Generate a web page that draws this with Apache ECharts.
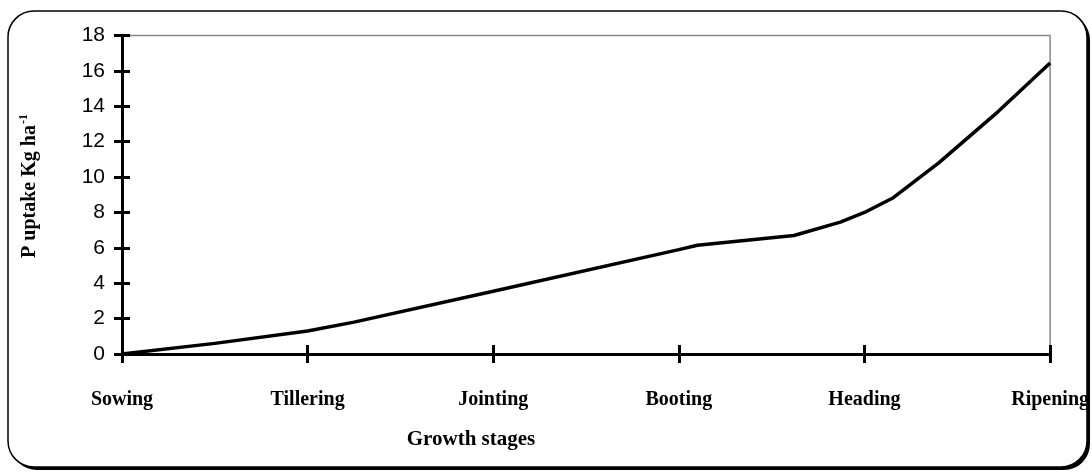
<!DOCTYPE html>
<html>
<head>
<meta charset="utf-8">
<script src="https://cdn.jsdelivr.net/npm/echarts@6/dist/echarts.min.js"></script>
<style>html,body{margin:0;padding:0;background:#fff;}#c{width:1092px;height:472px;}</style>
</head>
<body>
<div id="c"></div>
<script>
const stages = ['Sowing', 'Tillering', 'Jointing', 'Booting', 'Heading', 'Ripening'];
const stagePos = [0, 0.5, 1, 1.25, 2, 3, 3.1, 3.62, 3.87, 4, 4.15, 4.4, 4.72, 5];
const uptake = [0, 0.6, 1.3, 1.8, 3.55, 5.9, 6.15, 6.7, 7.45, 8.0, 8.8, 10.8, 13.7, 16.45];
const yTicks = [0, 2, 4, 6, 8, 10, 12, 14, 16, 18];

const chart = echarts.init(document.getElementById('c'), null, {renderer: 'canvas'});
const axisLine = {show: true, onZero: false, lineStyle: {color: '#000', width: 3}};
const tickStyle = {color: '#000', width: 3};
const yBase = {type: 'value', min: yTicks[0], max: yTicks[yTicks.length - 1], interval: 2, splitLine: {show: false}};
const xBase = {type: 'value', min: 0, max: stages.length - 1, interval: 1, splitLine: {show: false}};

chart.setOption({
  animation: false,
  backgroundColor: 'transparent',
  graphic: [
    {type: 'rect', z: -11, shape: {x: 11, y: 14, width: 1079, height: 456, r: 26},
     style: {fill: '#000'}},
    {type: 'rect', z: -10, shape: {x: 8, y: 11, width: 1079, height: 456, r: 26},
     style: {fill: '#fff', stroke: '#000', lineWidth: 1.5}},
    {type: 'text', x: 471, y: 440, z: 10,
     style: {text: 'Growth stages', fontFamily: 'Liberation Serif', fontWeight: 'bold', fontSize: 21, fill: '#000', align: 'center', verticalAlign: 'middle'}},
    {type: 'text', x: 30, y: 186, rotation: Math.PI / 2, z: 10,
     style: {text: '{a|P uptake Kg ha}{s|-1}', align: 'center', verticalAlign: 'middle', fill: '#000',
       rich: {a: {fontFamily: 'Liberation Serif', fontWeight: 'bold', fontSize: 20, lineHeight: 24},
              s: {fontFamily: 'Liberation Serif', fontWeight: 'bold', fontSize: 12, verticalAlign: 'top', lineHeight: 24, padding: [0, 0, 10, 1]}}}}
  ],
  grid: {left: 122, right: 39, top: 35.5, bottom: 118, show: true, borderColor: '#888', borderWidth: 1.5, backgroundColor: 'transparent'},
  xAxis: [
    Object.assign({}, xBase, {
      position: 'bottom', offset: 0, axisLine: axisLine,
      axisTick: {show: true, inside: false, length: 9, lineStyle: tickStyle},
      axisLabel: {show: true, margin: 36, color: '#000', fontFamily: 'Liberation Serif', fontWeight: 'bold', fontSize: 20,
        formatter: v => stages[Math.round(v)] || ''}
    }),
    Object.assign({}, xBase, {
      position: 'bottom', offset: 0, axisLine: {show: false},
      axisTick: {show: true, inside: true, length: 9, lineStyle: tickStyle},
      axisLabel: {show: false}
    })
  ],
  yAxis: [
    Object.assign({}, yBase, {
      position: 'left', offset: 0, axisLine: axisLine,
      axisTick: {show: true, inside: false, length: 8, lineStyle: tickStyle},
      axisLabel: {show: true, margin: 17, color: '#000', fontFamily: 'Liberation Sans', fontSize: 21}
    }),
    Object.assign({}, yBase, {
      position: 'left', offset: 0, axisLine: {show: false},
      axisTick: {show: true, inside: true, length: 8, lineStyle: tickStyle},
      axisLabel: {show: false}
    })
  ],
  series: [{
    type: 'line', xAxisIndex: 0, yAxisIndex: 0, symbol: 'none', smooth: false,
    lineStyle: {color: '#000', width: 3.5}, z: 5,
    data: stagePos.map((p, i) => [p, uptake[i]])
  }]
});
</script>
</body>
</html>
